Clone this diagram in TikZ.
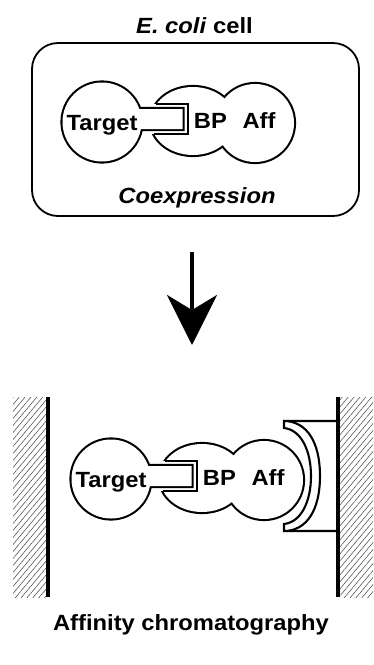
\documentclass[tikz,border=0pt]{standalone}
\usepackage{fontspec}
\setmainfont{Liberation Sans}
\newfontfamily\labfont[FakeStretch=1.08]{Liberation Sans}
\usetikzlibrary{arrows.meta,patterns.meta}
\tikzset{
  lbl/.style={font=\labfont\fontsize{22}{26}\bfseries\selectfont, inner sep=0pt, anchor=base},
  outl/.style={line width=4.2pt},
  pocketline/.style={line width=2.1pt, line join=miter},
  wallline/.style={line width=4pt},
  hatch/.style={pattern={Lines[angle=50,distance=4.5pt,line width=0.5pt]}, pattern color=black!75},
  complex/.pic={
    \draw[outl] (193,121) ellipse [x radius=42pt, y radius=34pt] (255,123) circle [radius=39pt];
    \fill[white] (193,121) ellipse [x radius=42pt, y radius=34pt] (255,123) circle [radius=39pt];
    \fill[white] (145,104) rectangle (188,134);
    \draw[pocketline] (155.5,104) -- (188,104) -- (188,134) -- (153.5,134);
    \draw[outl] (102,122) circle [radius=39.5pt] (130,109) rectangle (182.5,129);
    \fill[white] (102,122) circle [radius=39.5pt] (130,109) rectangle (182.5,129);
    \node[lbl] (-target) at (102,130.5) {Target};
    \node[lbl] (-bp) at (210.5,128.5) {BP};
    \node[lbl] (-aff) at (259,128.5) {Aff};
  }
}
\begin{document}
\begin{tikzpicture}[x=1pt,y=-1pt]
\useasboundingbox (0,0) rectangle (373,665);
% cell
\node[lbl] (title) at (194.5,33) {\textit{E. coli} cell};
\node[draw, line width=1.8pt, rounded corners=26pt, minimum width=327pt, minimum height=173pt, inner sep=0pt] (cell) at (195.5,129.5) {};
\pic (top) at (0,0) {complex};
\node[lbl] (coexp) at (197,203) {\textit{Coexpression}};
% arrow
\coordinate (arrowtop) at (192,252);
\coordinate (arrowtip) at (192,345);
\draw[line width=4pt, -{Stealth[length=50pt,width=50pt,inset=15pt]}] (arrowtop) -- (arrowtip);
% column
\fill[hatch] (13,397) rectangle (46,597);
\fill[hatch] (340,397) rectangle (373,597);
\draw[wallline] (48,397) -- (48,597);
\draw[wallline] (338,397) -- (338,597);
% affinity matrix holder
\draw[pocketline] (337,421) -- (284,421) -- (284,428)
  .. controls (302,430) and (311,452) .. (311,476)
  .. controls (311,500) and (302,522) .. (284,524)
  -- (284,531) -- (337,531);
\draw[pocketline] (287,421) .. controls (312,424) and (320,450) .. (320,476)
  .. controls (320,502) and (312,528) .. (287,531);
\pic (bot) at (9,357) {complex};
\node[lbl] (affchrom) at (191,630) {Affinity chromatography};
\end{tikzpicture}
\end{document}
